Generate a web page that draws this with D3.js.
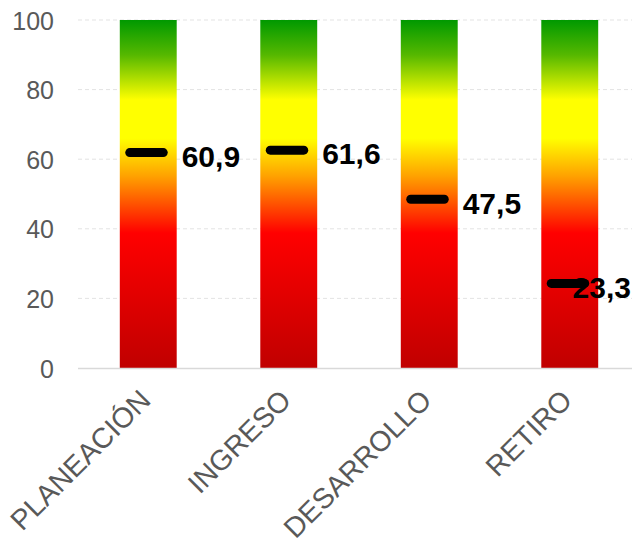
<!DOCTYPE html>
<html>
<head>
<meta charset="utf-8">
<script src="https://cdn.jsdelivr.net/npm/d3@7"></script>
<style>
  html, body { margin: 0; padding: 0; background: #fff; }
  svg { display: block; font-family: "Liberation Sans", Arial, sans-serif; }
</style>
</head>
<body>
<svg id="chart" width="632" height="546"></svg>
<script>
const categories = ["PLANEACIÓN", "INGRESO", "DESARROLLO", "RETIRO"];
const values = [60.9, 61.6, 47.5, 23.3];
const valueLabels = ["60,9", "61,6", "47,5", "23,3"];
const yTicks = [0, 20, 40, 60, 80, 100];
const yMax = 100;

const svg = d3.select("#chart");
const W = 632, H = 546;
const plot = { left: 78, right: 640, top: 20, bottom: 368 };

const x = d3.scaleBand().domain(categories).range([plot.left, plot.right]).paddingInner(0.595).paddingOuter(0.2975);
const y = d3.scaleLinear().domain([0, yMax]).range([plot.bottom, plot.top]);

// gradient
const defs = svg.append("defs");
const grad = defs.append("linearGradient").attr("id", "g").attr("x1", 0).attr("y1", 0).attr("x2", 0).attr("y2", 1);
[[0, "#009900"], [0.1, "#55b800"], [0.23, "#ffff00"], [0.34, "#ffff00"], [0.45, "#ffa000"], [0.612, "#ff0000"], [1, "#c00000"]]
  .forEach(([o, c]) => grad.append("stop").attr("offset", o).attr("stop-color", c));

// gridlines
svg.append("g").selectAll("line").data(yTicks.filter(d => d > 0)).join("line")
  .attr("x1", plot.left).attr("x2", W)
  .attr("y1", d => y(d)).attr("y2", d => y(d))
  .attr("stroke", "#e3e3e3").attr("stroke-width", 1).attr("stroke-dasharray", "4,3");

// bars (full height background 0..100)
svg.append("g").selectAll("rect").data(categories).join("rect")
  .attr("x", d => x(d)).attr("width", x.bandwidth())
  .attr("y", y(yMax)).attr("height", y(0) - y(yMax))
  .attr("fill", "url(#g)");

// x axis line
svg.append("line").attr("x1", plot.left).attr("x2", W)
  .attr("y1", y(0) + 0.5).attr("y2", y(0) + 0.5)
  .attr("stroke", "#d9d9d9").attr("stroke-width", 1.5);

// y axis labels
const yAxis = d3.axisLeft(y).tickValues(yTicks).tickSize(0).tickPadding(0);
const ya = svg.append("g").attr("transform", `translate(${54},0)`).call(yAxis);
ya.select(".domain").remove();
ya.selectAll("text").attr("fill", "#595959").attr("font-size", 25)
  .attr("font-family", "Liberation Sans, Arial, sans-serif").attr("dy", "0.36em");

// x axis labels
const xAxis = d3.axisBottom(x).tickSize(0).tickPadding(0);
const xa = svg.append("g").attr("transform", `translate(0,${plot.bottom})`).call(xAxis);
xa.select(".domain").remove();
xa.selectAll("text")
  .attr("fill", "#595959").attr("font-size", 28.5)
  .attr("font-family", "Liberation Sans, Arial, sans-serif")
  .attr("text-anchor", "end")
  .attr("dy", 0).attr("y", 0)
  .attr("transform", "translate(4,34) rotate(-45)");

// markers
const mw = 38;
svg.append("g").selectAll("line").data(values).join("line")
  .attr("x1", (d, i) => x(categories[i]) + x.bandwidth() / 2 - mw / 2 + 0.5)
  .attr("x2", (d, i) => x(categories[i]) + x.bandwidth() / 2 + mw / 2 - 4)
  .attr("y1", d => y(d) - 3.5).attr("y2", d => y(d) - 3.5)
  .attr("stroke", "#000").attr("stroke-width", 9).attr("stroke-linecap", "round");

// value labels (kept inside the chart area)
svg.append("g").selectAll("text").data(values).join("text")
  .attr("x", (d, i) => x(categories[i]) + x.bandwidth() + 5)
  .attr("y", d => y(d))
  .attr("dy", "0.36em")
  .attr("font-size", 30).attr("font-weight", "bold").attr("fill", "#000")
  .text((d, i) => valueLabels[i])
  .each(function() {
    const t = d3.select(this);
    const len = this.getComputedTextLength();
    const x0 = +t.attr("x");
    if (x0 + len > W - 1) t.attr("x", W - 1 - len);
  });
</script>
</body>
</html>
